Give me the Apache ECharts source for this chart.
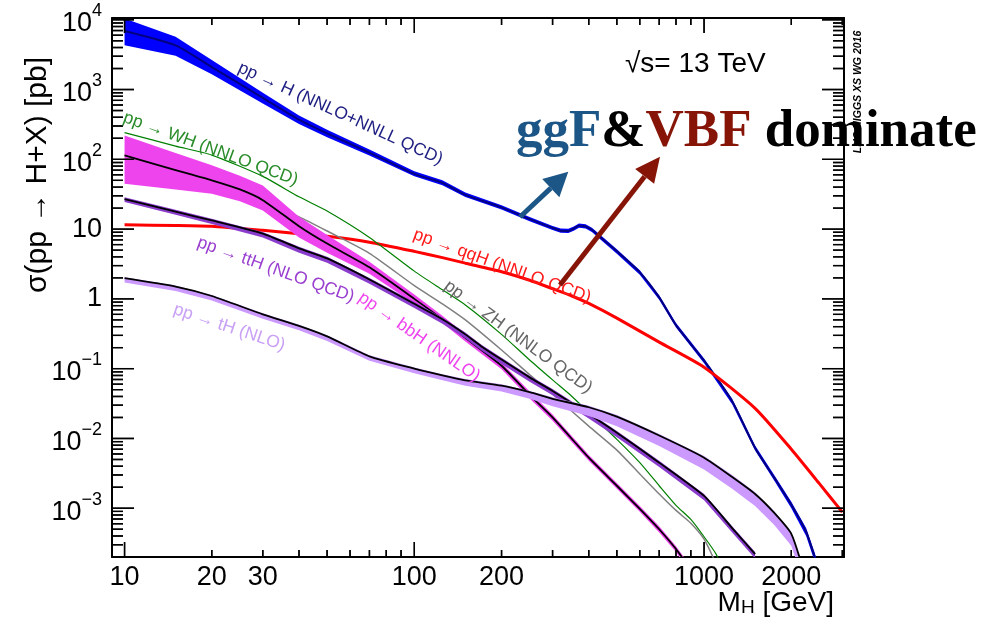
<!DOCTYPE html>
<html><head><meta charset="utf-8">
<script src="https://cdn.jsdelivr.net/npm/echarts@6/dist/echarts.min.js"></script>
<style>html,body{margin:0;padding:0;background:#fff}#c{width:985px;height:617px}</style>
</head><body><div id="c"></div>
<script>
// ---- axis ranges and ticks ----
const massRange = [9.05, 3040];
const sigmaRange = [2.0e-4, 1.06e4];
const massTicksMajor = [10, 100, 1000];
const massTicksMinor = [20,30,40,50,60,70,80,90,200,300,400,500,600,700,800,900,2000,3000];
const massLabels = [10,20,30,100,200,1000,2000];
const sigmaExponents = [-3,-2,-1,0,1,2,3,4];
const sigmaMinorMult = [2,3,4,5,6,7,8,9];

// ---- ggF: pp -> H (NNLO+NNLL QCD) ----
const mass_ggF = [10,15,20,30,40,50,70,100,125,150,200,250,300,320,340,355,370,390,410,450,500,600,700,800,1000,1250,1500,1750,2000,2250,2400,2500];
const xs_ggF = [6900,4300,2100,760,370,235,125,62,46,31,20.5,13.9,10.4,9.5,9.4,10.2,11.2,10.9,9.8,7.0,4.8,2.4,1.05,0.42,0.13,0.034,7.3e-3,2.7e-3,1.12e-3,4.6e-4,2.1e-4,1.2e-4];
const xs_ggF_lo = [4300,3050,1650,630,320,208,113,57,42.5,28.8,19.1,13.0,9.7,8.9,8.8,9.5,10.5,10.2,9.1,6.5,4.45,2.22,0.97,0.39,0.12,0.031,6.7e-3,2.45e-3,1.0e-3,4.0e-4,1.8e-4,1.0e-4];
const xs_ggF_hi = [10400,5700,2650,900,425,265,138,67.5,50,33.5,22,14.9,11.1,10.2,10.1,10.9,12.0,11.7,10.5,7.5,5.15,2.58,1.13,0.45,0.14,0.037,7.9e-3,2.95e-3,1.24e-3,5.2e-4,2.4e-4,1.4e-4];

// ---- qqH (VBF) ----
const mass_qqH = [10,15,20,30,40,50,70,100,125,150,200,250,300,350,400,500,700,1000,1500,2000,2500,3000];
const xs_qqH = [11.5,11.3,11.0,9.6,8.6,7.9,6.5,4.8,3.9,3.25,2.45,1.85,1.4,1.1,0.86,0.53,0.24,0.105,0.027,0.0070,0.00225,0.00088];

// ---- WH ----
const mass_WH = [10,15,20,30,40,50,70,100,125,150,200,250,300,350,400,500,600,700,800,900,1000,1100,1200];
const xs_WH = [241,155,115,57,29,18.2,7.6,2.5,1.35,0.82,0.31,0.133,0.069,0.040,0.0236,0.0097,0.0045,0.0021,1.1e-3,6.9e-4,3.9e-4,2.2e-4,1.0e-4];

// ---- ZH ----
const mass_ZH = [10,15,20,30,40,50,70,100,125,150,200,250,300,400,500,600,700,800,900,1000,1100];
const xs_ZH = [115,70,50,25,15,9.4,4.5,1.55,0.85,0.5,0.185,0.082,0.043,0.015,0.0068,0.0031,0.0016,9.3e-4,6.1e-4,3.6e-4,1.6e-4];

// ---- bbH ----
const mass_bbH = [10,15,20,25,30,40,50,70,100,125,150,200,250,300,400,500,600,700,800,900];
const xs_bbH = [114,70,50,37,26,11.0,6.2,2.83,1.0,0.51,0.277,0.11,0.042,0.020,0.0053,0.0021,9.8e-4,5.0e-4,2.6e-4,1.3e-4];
const xs_bbH_lo = [44.7,36.9,32,25,18.5,7.6,4.6,2.3,0.85,0.45,0.245,0.098,0.0375,0.018,0.0048,0.0019,8.9e-4,4.5e-4,2.35e-4,1.15e-4];
const xs_bbH_hi = [220,123,82,58,42,15.0,8.2,3.4,1.16,0.575,0.312,0.123,0.047,0.022,0.0058,0.0023,1.08e-3,5.5e-4,2.85e-4,1.45e-4];

// ---- ttH ----
const mass_ttH = [10,15,20,30,40,50,70,100,125,150,170,200,250,300,400,500,700,1000,1250,1500];
const xs_ttH = [27,17.8,13.3,8.6,5.3,3.8,1.9,0.85,0.51,0.31,0.21,0.135,0.075,0.048,0.0224,0.0121,0.0045,1.5e-3,5.2e-4,2.2e-4];
const xs_ttH_lo = [24.5,16.0,11.8,7.6,4.6,3.3,1.65,0.74,0.44,0.27,0.183,0.117,0.065,0.0415,0.0193,0.0104,0.0039,1.3e-3,4.5e-4,1.9e-4];
const xs_ttH_hi = [28.5,18.9,14.1,9.1,5.6,4.0,2.0,0.9,0.54,0.33,0.222,0.143,0.079,0.051,0.0237,0.0128,0.0048,1.6e-3,5.5e-4,2.35e-4];

// ---- tH ----
const mass_tH = [10,15,20,30,40,50,70,100,125,150,200,250,300,400,500,700,1000,1250,1500,1750,2000,2200];
const xs_tH = [1.98,1.5,1.1,0.6,0.41,0.29,0.15,0.1,0.08,0.068,0.057,0.046,0.037,0.028,0.0205,0.011,0.0053,0.0028,0.0016,8.5e-4,4.3e-4,1.3e-4];
const xs_tH_lo = [1.72,1.3,0.95,0.52,0.355,0.25,0.13,0.086,0.068,0.057,0.047,0.037,0.029,0.021,0.015,0.0078,0.0036,0.0019,0.00108,5.7e-4,2.9e-4,0.9e-4];
const xs_tH_hi = [2.04,1.55,1.14,0.62,0.425,0.3,0.156,0.104,0.083,0.071,0.06,0.048,0.039,0.0295,0.0216,0.0116,0.0056,0.003,0.0017,9e-4,4.55e-4,1.4e-4];

// ---- helpers ----
const L = v => Math.log10(v);
const FONT = 'Liberation Sans';
const pts = (m, s) => m.map((x, i) => [L(x), L(s[i])]);

const GRID = { left: 112, top: 18, width: 732, height: 539 };

function lineSeries(name, m, s, color, width, z) {
  return { name, type: 'line', data: pts(m, s), symbol: 'none', smooth: 0.2,
    lineStyle: { color, width }, z: z, silent: true, clip: true };
}
function bandSeries(name, m, lo, hi, color, z) {
  const poly = pts(m, lo).concat(pts(m, hi).reverse());
  return {
    name: name + '_band', type: 'custom', clip: true, silent: true, z: z,
    data: [poly[0]],
    renderItem: (params, api) => ({
      type: 'polygon',
      shape: { points: poly.map(p => api.coord(p)) },
      style: { fill: color, stroke: null }
    })
  };
}

const xMin = L(massRange[0]), xMax = L(massRange[1]);
const yMin = L(sigmaRange[0]), yMax = L(sigmaRange[1]);

const sigmaMinor = [];
for (let e = -4; e <= 4; e++) for (const k of sigmaMinorMult) {
  const v = L(k) + e; if (v > yMin && v < yMax) sigmaMinor.push(v);
}
const xTickSpecs = massTicksMajor.map(m => [L(m), 15]).concat(massTicksMinor.map(m => [L(m), 7]));
const yTickSpecs = sigmaExponents.map(e => [e, 22]).concat(sigmaMinor.map(v => [v, 11]));

// tick marks drawn as a gapped line series (in data units, through the axis scales)
const unitsPerPxX = (xMax - xMin) / GRID.width;
const unitsPerPxY = (yMax - yMin) / GRID.height;
const GAP = ['-', '-'];
const tickData = [];
xTickSpecs.forEach(([v, len]) => {
  tickData.push([v, yMin], [v, yMin + len * unitsPerPxY], GAP, [v, yMax], [v, yMax - len * unitsPerPxY], GAP);
});
yTickSpecs.forEach(([v, len]) => {
  tickData.push([xMin, v], [xMin + len * unitsPerPxX, v], GAP, [xMax, v], [xMax - len * unitsPerPxX, v], GAP);
});
const tickLineSeries = {
  name: 'ticks', type: 'line', data: tickData, symbol: 'none', showSymbol: false, smooth: false,
  connectNulls: false, clip: false, silent: true, z: 40,
  lineStyle: { color: '#000', width: 1.4 }
};

function tickRects(coord) {
  const out = [];
  const w = 1.4;
  xTickSpecs.forEach(([v, len]) => {
    const b = coord([v, yMin]), t = coord([v, yMax]);
    out.push({ type: 'rect', shape: { x: b[0] - w / 2, y: b[1] - len, width: w, height: len }, style: { fill: '#000' } });
    out.push({ type: 'rect', shape: { x: t[0] - w / 2, y: t[1], width: w, height: len }, style: { fill: '#000' } });
  });
  yTickSpecs.forEach(([v, len]) => {
    const l = coord([xMin, v]), r = coord([xMax, v]);
    out.push({ type: 'rect', shape: { x: l[0], y: l[1] - w / 2, width: len, height: w }, style: { fill: '#000' } });
    out.push({ type: 'rect', shape: { x: r[0] - len, y: r[1] - w / 2, width: len, height: w }, style: { fill: '#000' } });
  });
  return out;
}

function xAxisDef(position) {
  return {
    type: 'value', position, min: xMin, max: xMax, splitLine: { show: false },
    axisLine: { show: true, onZero: false, lineStyle: { color: '#000', width: 2 } },
    axisTick: { show: false },
    axisLabel: position === 'bottom' ? {
      customValues: massLabels.map(L), formatter: v => String(Math.round(Math.pow(10, v))),
      fontSize: 27, color: '#000', fontFamily: FONT, margin: 7 } : { show: false }
  };
}
function yAxisDef(position) {
  return {
    type: 'value', position, min: yMin, max: yMax, splitLine: { show: false },
    axisLine: { show: true, onZero: false, lineStyle: { color: '#000', width: 2 } },
    axisTick: { show: false },
    axisLabel: position === 'left' ? {
      customValues: sigmaExponents, margin: 10, color: '#000', fontFamily: FONT, fontSize: 27,
      formatter: v => {
        const e = Math.round(v);
        if (e === 0) return '{b|1}';
        if (e === 1) return '{b|10}';
        return '{h| }{b|10}{s|' + (e < 0 ? '\u2212' + (-e) : e) + '}';
      },
      rich: {
        b: { fontSize: 27, lineHeight: 27, verticalAlign: 'bottom', fontFamily: FONT, color: '#000' },
        s: { fontSize: 18, lineHeight: 18, verticalAlign: 'top', fontFamily: FONT, color: '#000' },
        h: { fontSize: 1, lineHeight: 35 }
      } } : { show: false }
  };
}

const series = [
  bandSeries('ggF', mass_ggF, xs_ggF_lo, xs_ggF_hi, '#0000ff', 2),
  lineSeries('ggF', mass_ggF, xs_ggF, '#000080', 2, 3),
  lineSeries('qqH', mass_qqH, xs_qqH, '#ff0000', 3, 4),
  lineSeries('ZH', mass_ZH, xs_ZH, '#808080', 1.5, 5),
  lineSeries('WH', mass_WH, xs_WH, '#008000', 1.2, 5),
  bandSeries('bbH', mass_bbH, xs_bbH_lo, xs_bbH_hi, '#ee44ee', 6),
  lineSeries('bbH', mass_bbH, xs_bbH, '#000000', 1.8, 7),
  bandSeries('ttH', mass_ttH, xs_ttH_lo, xs_ttH_hi, '#8a3ccc', 8),
  lineSeries('ttH', mass_ttH, xs_ttH, '#000000', 1.8, 9),
  bandSeries('tH', mass_tH, xs_tH_lo, xs_tH_hi, '#cc99ff', 10),
  lineSeries('tH', mass_tH, xs_tH, '#000000', 1.8, 11),
  tickLineSeries
];

function curveLabel(text, x, y, deg, color) {
  return { type: 'text', x, y, rotation: -deg * Math.PI / 180, z: 100,
    style: { text, fontSize: 17.5, fontFamily: FONT, fill: color, align: 'left', verticalAlign: 'middle' } };
}
function arrow(x1, y1, x2, y2, color, headLen, headHalf, width) {
  const dx = x2 - x1, dy = y2 - y1, len = Math.hypot(dx, dy);
  const ux = dx / len, uy = dy / len, nx = -uy, ny = ux;
  const bx = x2 - ux * headLen, by = y2 - uy * headLen;
  return [
    { type: 'line', z: 100, shape: { x1, y1, x2: bx, y2: by }, style: { stroke: color, lineWidth: width } },
    { type: 'polygon', z: 100, shape: { points: [[x2, y2], [bx + nx * headHalf, by + ny * headHalf], [bx - nx * headHalf, by - ny * headHalf]] },
      style: { fill: color } }
  ];
}

const serif = { fontFamily: 'Liberation Serif', fontWeight: 'bold', fontSize: 53 };
const graphics = [
  { type: 'text', x: 38, y: 175, rotation: Math.PI / 2, z: 100,
    style: { text: 'σ(pp → H+X) [pb]', fontSize: 30, fontFamily: FONT, fill: '#000', align: 'center', verticalAlign: 'middle' } },
  { type: 'text', x: 834, y: 603, z: 100,
    style: { text: '{m|M}{u|H}{m| [GeV]}', align: 'right', verticalAlign: 'middle',
      rich: { m: { fontSize: 28, lineHeight: 28, verticalAlign: 'top', fontFamily: FONT, fill: '#000' },
              u: { fontSize: 19, lineHeight: 19, verticalAlign: 'bottom', fontFamily: FONT, fill: '#000' },
              h: { fontSize: 1, lineHeight: 34 } } } },
  { type: 'text', x: 625, y: 64, z: 100,
    style: { text: '√s= 13 TeV', fontSize: 28, fontFamily: FONT, fill: '#000', align: 'left', verticalAlign: 'middle' } },
  { type: 'text', x: 858, y: 92, rotation: Math.PI / 2, z: 100,
    style: { text: 'LHC HIGGS XS WG 2016', fontSize: 10.5, fontFamily: FONT, fontWeight: 'bold', fontStyle: 'italic',
      fill: '#000', align: 'center', verticalAlign: 'middle' } },
  curveLabel('pp → H (NNLO+NNLL QCD)', 239, 67, 24.7, '#1e1e82'),
  curveLabel('pp → WH (NNLO QCD)', 124, 117, 20.2, '#2a8c2a'),
  curveLabel('pp → ttH (NLO QCD)', 198, 242, 19.7, '#9a3fd0'),
  curveLabel('pp → bbH (NNLO)', 360, 296, 34.8, '#ee44ee'),
  curveLabel('pp → tH (NLO)', 174, 309, 18.5, '#c9a0f5'),
  curveLabel('pp → qqH (NNLO QCD)', 414, 234, 20, '#ff1a1a'),
  curveLabel('pp → ZH (NNLO QCD)', 446, 284, 36.3, '#666666'),
  { type: 'text', x: 516, y: 132, z: 100,
    style: { text: '{g|ggF}{a|&}{v|VBF}{a| dominate}', align: 'left', verticalAlign: 'middle',
      rich: { g: Object.assign({ fill: '#1b5687' }, serif), a: Object.assign({ fill: '#000' }, serif),
              v: Object.assign({ fill: '#861507' }, serif) } } }
].concat(
  arrow(520, 217, 568.3, 171.7, '#1b5687', 24, 12.5, 5),
  arrow(560, 285, 660, 156.7, '#861507', 25, 12, 5)
);

const chart = echarts.init(document.getElementById('c'), null, { renderer: 'canvas' });
chart.setOption({
  animation: false,
  backgroundColor: '#fff',
  grid: Object.assign({ outerBoundsMode: 'none' }, GRID),
  xAxis: [xAxisDef('bottom'), xAxisDef('top')],
  yAxis: [yAxisDef('left'), yAxisDef('right')],
  series: series
});

// same tick marks again as graphic rects converted through the chart's grid scales (fallback)
const conv = p => chart.convertToPixel({ gridIndex: 0 }, p);
let tickGraphics = [];
try { tickGraphics = tickRects(conv).map(el => Object.assign({ z: 90, silent: true }, el)); } catch (e) { tickGraphics = []; }
chart.setOption({ graphic: graphics.concat(tickGraphics) });
</script></body></html>
